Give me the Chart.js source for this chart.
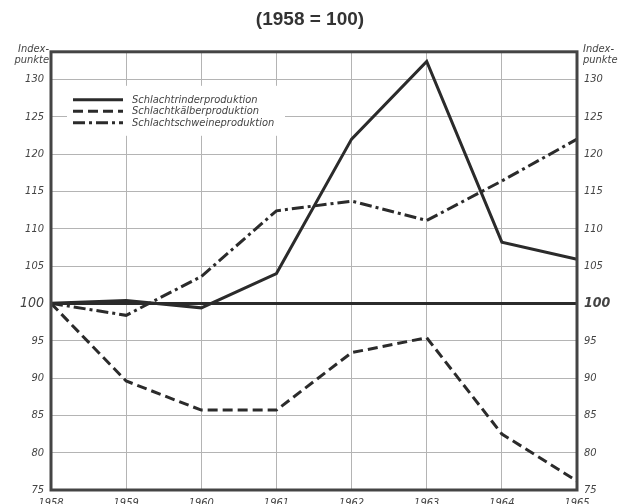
<!DOCTYPE html>
<html>
<head>
<meta charset="utf-8">
<script src="https://cdn.jsdelivr.net/npm/chart.js@4"></script>
<style>
  html, body { margin: 0; padding: 0; background: #fff; overflow: hidden; }
  #wrap { position: relative; width: 620px; height: 512px; }
</style>
</head>
<body>
<div id="wrap"><canvas id="chart"></canvas></div>
<script>
const YEARS = ['1958', '1959', '1960', '1961', '1962', '1963', '1964', '1965'];
const RINDER = [100, 100.4, 99.4, 104, 122, 132.4, 108.2, 105.9];
const KAELBER = [100, 89.6, 85.7, 85.7, 93.4, 95.4, 82.5, 76.2];
const SCHWEINE = [100, 98.4, 103.6, 112.4, 113.7, 111.1, 116.4, 122];
const SERIES_NAMES = ['Schlachtrinderproduktion', 'Schlachtkälberproduktion', 'Schlachtschweineproduktion'];
const Y_TICKS = [75, 80, 85, 90, 95, 100, 105, 110, 115, 120, 125, 130];
const AXIS_UNIT = ['Index-', 'punkte'];

const INK = '#2b2b2b';
const GRID = '#b4b4b4';
const LABEL_FONT = "'Liberation Sans Narrow', 'DejaVu Sans Condensed', sans-serif";

const tickFont = (ctx, boldHundred) => {
    if (ctx.tick && ctx.tick.value === 100) {
        return { family: LABEL_FONT, style: 'italic', size: 14, weight: boldHundred ? 'bold' : 'normal' };
    }
    return { family: LABEL_FONT, style: 'italic', size: 11 };
};

// legend drawn inside the plot, on a white patch
const innerLegend = {
    id: 'innerLegend',
    beforeDatasetsDraw(chart) {
        const { ctx, chartArea: a } = chart;
        ctx.save();
        ctx.fillStyle = '#fff';
        ctx.fillRect(a.left + 16, a.top + 34, 218, 50);
        ctx.restore();
    },
    afterDatasetsDraw(chart) {
        const { ctx, chartArea: a } = chart;
        ctx.save();
        chart.data.datasets.forEach((ds, i) => {
            const y = a.top + 48 + i * 11.5;
            ctx.strokeStyle = INK;
            ctx.lineWidth = 3;
            ctx.setLineDash(ds.borderDash || []);
            ctx.beginPath();
            ctx.moveTo(a.left + 22, y);
            ctx.lineTo(a.left + 72, y);
            ctx.stroke();
            ctx.setLineDash([]);
            ctx.fillStyle = '#444';
            ctx.font = "italic 11px " + LABEL_FONT;
            ctx.textBaseline = 'middle';
            ctx.fillText(ds.label, a.left + 81, y);
        });
        ctx.restore();
    },
    afterDraw(chart) {
        const { ctx, chartArea: a } = chart;
        ctx.save();
        // frame
        ctx.strokeStyle = '#444';
        ctx.lineWidth = 3;
        ctx.strokeRect(a.left, a.top, a.right - a.left, a.bottom - a.top);
        // unit labels on both sides
        ctx.fillStyle = '#444';
        ctx.font = "italic 11px " + LABEL_FONT;
        ctx.textBaseline = 'middle';
        ctx.textAlign = 'right';
        ctx.fillText(AXIS_UNIT[0], a.left - 2, a.top - 3);
        ctx.fillText(AXIS_UNIT[1], a.left - 2, a.top + 8);
        ctx.textAlign = 'left';
        ctx.fillText(AXIS_UNIT[0], a.right + 6, a.top - 3);
        ctx.fillText(AXIS_UNIT[1], a.right + 6, a.top + 8);
        ctx.restore();
    }
};

const lineStyle = {
    borderColor: INK,
    borderWidth: 3,
    pointRadius: 0,
    tension: 0,
    fill: false,
};

const yTicks = (bold) => ({
    color: '#444',
    padding: 7,
    includeBounds: false,
    stepSize: 5,
    font: (ctx) => tickFont(ctx, bold),
});

new Chart(document.getElementById('chart'), {
    type: 'line',
    data: {
        labels: YEARS,
        datasets: [
            { ...lineStyle, label: SERIES_NAMES[0], data: RINDER },
            { ...lineStyle, label: SERIES_NAMES[1], data: KAELBER, borderDash: [10, 5] },
            { ...lineStyle, label: SERIES_NAMES[2], data: SCHWEINE, borderDash: [12, 4, 3, 4] },
        ],
    },
    options: {
        responsive: true,
        maintainAspectRatio: false,
        animation: false,
        layout: { padding: 0 },
        plugins: {
            legend: { display: false },
            tooltip: { enabled: false },
            title: {
                display: true,
                text: '(1958 = 100)',
                color: '#333',
                font: { family: "'Liberation Sans', Arial, sans-serif", size: 19, weight: 'bold' },
                padding: { top: 8, bottom: 21 },
            },
        },
        scales: {
            x: {
                offset: false,
                grid: { color: GRID, lineWidth: 1, drawTicks: false, offset: false },
                border: { display: false },
                ticks: {
                    color: '#444',
                    padding: 7,
                    maxRotation: 0,
                    font: { family: LABEL_FONT, style: 'italic', size: 11 },
                },
                afterFit: (s) => { s.height = 22; },
            },
            y: {
                position: 'left',
                min: 75,
                max: 133.7,
                grid: {
                    drawTicks: false,
                    color: (ctx) => ctx.tick && ctx.tick.value === 100 ? INK : GRID,
                    lineWidth: (ctx) => ctx.tick && ctx.tick.value === 100 ? 3 : 1,
                },
                border: { display: false },
                ticks: yTicks(false),
                afterBuildTicks: (s) => { s.ticks = Y_TICKS.map(v => ({ value: v })); },
                afterFit: (s) => { s.width = 51; },
            },
            y2: {
                position: 'right',
                min: 75,
                max: 133.7,
                grid: { drawOnChartArea: false, drawTicks: false },
                border: { display: false },
                ticks: yTicks(true),
                afterBuildTicks: (s) => { s.ticks = Y_TICKS.map(v => ({ value: v })); },
                afterFit: (s) => { s.width = 43; },
            },
        },
    },
    plugins: [innerLegend],
});
</script>
</body>
</html>
